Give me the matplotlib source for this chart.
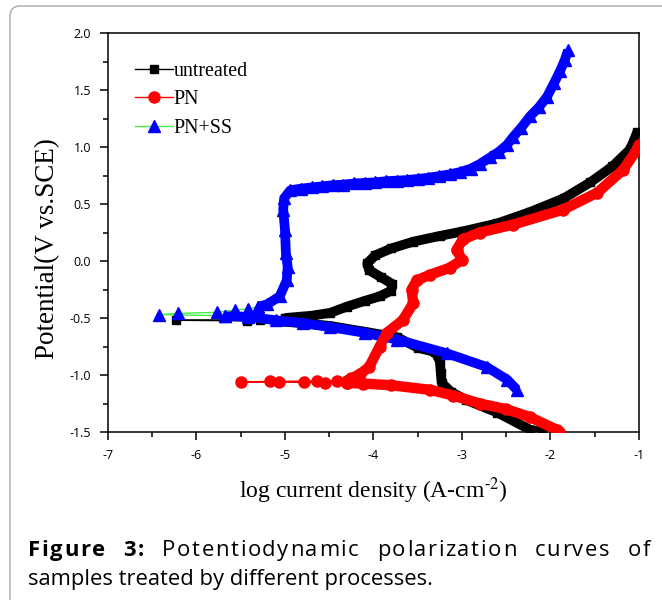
import matplotlib
matplotlib.use("Agg")
import matplotlib.pyplot as plt
from matplotlib.lines import Line2D
from matplotlib.patches import FancyBboxPatch
from matplotlib.transforms import IdentityTransform
from matplotlib.ticker import MultipleLocator, FormatStrFormatter

plt.rcParams['mathtext.fontset'] = 'stix'
plt.rcParams['axes.unicode_minus'] = False

# polarization data (log i in A/cm2, E in V vs SCE)
# each series: cathodic branch (bottom up), sparse points near Ecorr, anodic branch
untreated_cath_x = [-2.10, -2.23, -2.60, -2.95, -3.12, -3.23, -3.24, -3.25, -3.30, -3.50, -3.73, -4.10, -4.49, -4.80, -5.07]
untreated_cath_y = [-1.50, -1.48, -1.33, -1.22, -1.15, -1.07, -0.98, -0.88, -0.80, -0.76, -0.67, -0.62, -0.57, -0.545, -0.53]
untreated_ecorr_x = [-5.07, -5.43, -6.23, -5.28, -5.00]
untreated_ecorr_y = [-0.53, -0.525, -0.52, -0.515, -0.50]
untreated_anod_x = [-5.00, -4.70, -4.49, -4.30, -4.10, -3.93, -3.80, -3.79, -3.92, -4.05, -4.07, -3.98, -3.80, -3.55,
                    -3.25, -2.99, -2.60, -2.23, -1.85, -1.55, -1.30, -1.10, -1.02]
untreated_anod_y = [-0.50, -0.48, -0.455, -0.40, -0.35, -0.31, -0.26, -0.20, -0.14, -0.08, -0.02, 0.05, 0.11, 0.17,
                    0.22, 0.26, 0.33, 0.43, 0.55, 0.69, 0.83, 0.98, 1.13]

pn_cath_x = [-1.90, -1.93, -2.23, -2.50, -2.80, -3.10, -3.36, -3.80, -4.12, -4.30]
pn_cath_y = [-1.50, -1.48, -1.37, -1.30, -1.25, -1.18, -1.13, -1.09, -1.075, -1.07]
pn_ecorr_x = [-4.30, -4.55, -4.79, -5.07, -5.50, -5.17, -4.64, -4.41, -4.30]
pn_ecorr_y = [-1.07, -1.068, -1.065, -1.062, -1.06, -1.057, -1.052, -1.05, -1.05]
pn_anod_x = [-4.30, -4.25, -4.15, -4.05, -3.93, -3.85, -3.67, -3.55, -3.57, -3.51, -3.36, -3.14, -3.00, -3.06, -2.99,
             -2.80, -2.42, -1.86, -1.47, -1.18, -1.02, -1.00]
pn_anod_y = [-1.05, -1.03, -0.99, -0.93, -0.75, -0.63, -0.52, -0.37, -0.25, -0.17, -0.12, -0.06, 0.01, 0.10, 0.19,
             0.25, 0.32, 0.45, 0.60, 0.80, 0.98, 1.02]

ss_cath_x = [-2.38, -2.49, -2.72, -3.17, -3.73, -4.10, -4.49, -4.80, -5.10, -5.42, -5.68]
ss_cath_y = [-1.13, -1.04, -0.93, -0.81, -0.69, -0.63, -0.58, -0.545, -0.52, -0.49, -0.48]
ss_ecorr_x = [-5.68, -6.42, -6.21, -5.77, -5.56, -5.42, -5.30]
ss_ecorr_y = [-0.48, -0.47, -0.46, -0.45, -0.43, -0.42, -0.40]
ss_anod_x = [-5.30, -5.20, -5.06, -4.98, -4.97, -4.99, -5.00, -5.02, -5.01, -4.94, -4.82, -4.70, -4.58, -4.46, -4.34,
             -4.22, -4.10, -3.98, -3.86, -3.74, -3.62, -3.50, -3.38, -3.26, -3.14, -3.02, -2.90, -2.80, -2.68, -2.58,
             -2.49, -2.42, -2.33, -2.23, -2.13, -2.04, -1.96, -1.89, -1.84, -1.80]
ss_anod_y = [-0.40, -0.38, -0.31, -0.17, -0.05, 0.07, 0.27, 0.45, 0.55, 0.62, 0.635, 0.645, 0.655, 0.665, 0.67,
             0.68, 0.685, 0.69, 0.70, 0.705, 0.71, 0.72, 0.73, 0.745, 0.76, 0.78, 0.81, 0.85, 0.91, 0.96,
             1.02, 1.09, 1.17, 1.27, 1.35, 1.44, 1.56, 1.67, 1.76, 1.85]

caption1 = [('Figure', 'bold'), ('3:', 'bold'), ('Potentiodynamic', 'normal'), ('polarization', 'normal'),
            ('curves', 'normal'), ('of', 'normal')]
caption2 = 'samples treated by different processes.'

fig = plt.figure(figsize=(6.62, 6.0), dpi=100)
ax = fig.add_axes([108 / 662, 168 / 600, 531 / 662, 399 / 600])

# untreated: black squares
ax.plot(untreated_cath_x, untreated_cath_y, color='black', lw=7, solid_capstyle='butt', zorder=2)
ax.plot(untreated_anod_x, untreated_anod_y, color='black', lw=7, solid_capstyle='butt', zorder=2)
ax.plot(untreated_ecorr_x, untreated_ecorr_y, color='black', lw=1, marker='s', ms=6, zorder=2)
ax.plot(untreated_cath_x + untreated_anod_x, untreated_cath_y + untreated_anod_y,
        ls='none', marker='s', ms=6, color='black', zorder=2)

# PN+SS: blue triangles, green line
ax.plot(ss_cath_x, ss_cath_y, color='blue', lw=7, solid_capstyle='butt', zorder=3)
ax.plot(ss_anod_x, ss_anod_y, color='blue', lw=7, solid_capstyle='butt', zorder=3)
ax.plot(ss_ecorr_x, ss_ecorr_y, color='#44ee44', lw=1, zorder=3)
ax.plot(ss_cath_x + ss_ecorr_x + ss_anod_x, ss_cath_y + ss_ecorr_y + ss_anod_y,
        ls='none', marker='^', ms=8.5, color='blue', zorder=3)

# PN: red circles
ax.plot(pn_cath_x, pn_cath_y, color='red', lw=7.5, solid_capstyle='butt', zorder=4)
ax.plot(pn_anod_x, pn_anod_y, color='red', lw=7.5, solid_capstyle='butt', zorder=4)
ax.plot(pn_ecorr_x, pn_ecorr_y, color='red', lw=1, marker='o', ms=8, zorder=4)
ax.plot(pn_cath_x + pn_anod_x, pn_cath_y + pn_anod_y, ls='none', marker='o', ms=8, color='red', zorder=4)

ax.set_xlim(-7, -1)
ax.set_ylim(-1.5, 2.0)
ax.xaxis.set_major_locator(MultipleLocator(1))
ax.xaxis.set_minor_locator(MultipleLocator(0.5))
ax.yaxis.set_major_locator(MultipleLocator(0.5))
ax.yaxis.set_minor_locator(MultipleLocator(0.25))
ax.yaxis.set_major_formatter(FormatStrFormatter('%.1f'))
for s in ax.spines.values():
    s.set_linewidth(1.1)
ax.tick_params(which='major', length=6, width=1.1, pad=6, labelsize=9, direction='out')
ax.tick_params(which='minor', length=3.5, width=1.1, direction='out')
for lab in ax.get_xticklabels() + ax.get_yticklabels():
    lab.set_family('Open Sans')

ax.set_xlabel('log current density (A-cm$^{\u2010 2}$)', family='Liberation Serif', fontsize=17)
ax.xaxis.set_label_coords(0.5, -0.11)
ax.set_ylabel('Potential(V vs.SCE)', family='Liberation Serif', fontsize=19.5)
ax.yaxis.set_label_coords(-0.09, 0.46)

handles = [
    Line2D([], [], color='black', lw=1, marker='s', ms=6),
    Line2D([], [], color='red', lw=1, marker='o', ms=8),
    Line2D([], [], color='#44ee44', lw=1, marker='^', ms=8, markerfacecolor='blue', markeredgecolor='blue'),
]
ax.legend(handles, ['untreated', 'PN', 'PN+SS'], loc='upper left', bbox_to_anchor=(0.035, 0.948),
          frameon=False, prop={'family': 'Liberation Serif', 'size': 14.4},
          handlelength=1.9, handletextpad=0.05, labelspacing=0.48, borderaxespad=0)

# rounded frame around figure + caption
frame = FancyBboxPatch((10, -30), 700, 624, boxstyle='round,pad=0,rounding_size=10',
                       transform=IdentityTransform(), facecolor='none', edgecolor='#a8a8a8', lw=1)
fig.add_artist(frame)

# caption, first line justified (a little letter spacing, rest in the word gaps)
fig.canvas.draw()
r = fig.canvas.get_renderer()
left, right = 28 / 662, 650 / 662
letter_extra = 1.6 / 662
y1 = 1 - 556 / 600
words = []
for word, wt in caption1:
    ts = [fig.text(0, y1, c, fontsize=15.8, family='Open Sans', weight=wt, va='baseline') for c in word]
    ws = [t.get_window_extent(r).width / fig.bbox.width for t in ts]
    words.append((ts, ws))
total = sum(sum(ws) + letter_extra * (len(ws) - 1) for ts, ws in words)
word_gap = (right - left - total) / (len(words) - 1)
x = left
for ts, ws in words:
    for t, w in zip(ts, ws):
        t.set_x(x)
        x += w + letter_extra
    x += word_gap - letter_extra
fig.text(left, 1 - 585 / 600, caption2, fontsize=15.8, family='Open Sans', va='baseline')

fig.savefig('out.png', dpi=100)
